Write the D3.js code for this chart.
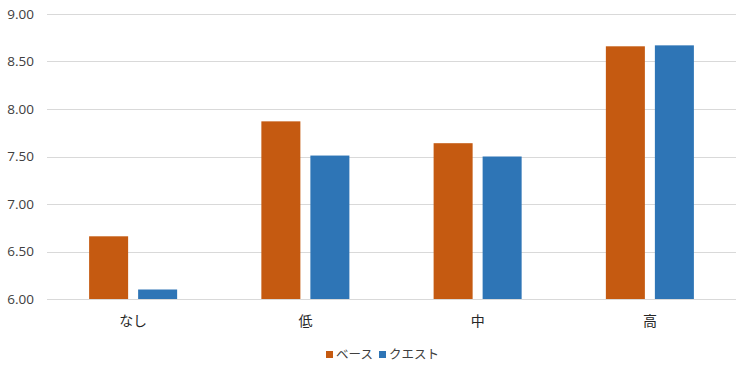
<!DOCTYPE html>
<html>
<head>
<meta charset="utf-8">
<script src="https://cdn.jsdelivr.net/npm/d3@7"></script>
<style>
  body { margin: 0; background: #fff; }
  text { font-family: "Noto Sans CJK JP", "Open Sans", sans-serif; }
</style>
</head>
<body>
<div id="chart"></div>
<script>
// chart data
const categories = ["なし", "低", "中", "高"];
const seriesNames = ["ベース", "クエスト"];
const baseValues = [6.66, 7.87, 7.64, 8.66];
const questValues = [6.10, 7.51, 7.50, 8.67];
const yTicks = [6.0, 6.5, 7.0, 7.5, 8.0, 8.5, 9.0];
const colors = ["#c55a11", "#2e75b6"];

let width = 750, height = 376;
let margin = {top: 14, right: 14, bottom: 77, left: 47};

let svg = d3.select("#chart").append("svg")
    .attr("width", width)
    .attr("height", height);

let x0 = d3.scaleBand()
    .domain(categories)
    .range([margin.left, width - margin.right])
    .paddingInner(0.489)
    .paddingOuter(0.2445);

let x1 = d3.scaleBand()
    .domain(seriesNames)
    .range([0, x0.bandwidth()])
    .paddingInner(0.204);

let y = d3.scaleLinear()
    .domain([6, 9])
    .range([height - margin.bottom, margin.top]);

// gridlines
svg.append("g")
    .selectAll("line")
    .data(yTicks)
    .join("line")
    .attr("x1", margin.left)
    .attr("x2", width - margin.right)
    .attr("y1", d => Math.round(y(d)) + 0.5)
    .attr("y2", d => Math.round(y(d)) + 0.5)
    .attr("stroke", "#d9d9d9")
    .attr("stroke-width", 1);

// y axis labels
let yAxis = svg.append("g")
    .attr("transform", `translate(${margin.left},0)`)
    .call(d3.axisLeft(y).tickValues(yTicks).tickFormat(d3.format(".2f")).tickSize(0).tickPadding(13));
yAxis.select(".domain").remove();
yAxis.selectAll("text")
    .attr("font-size", 13.5)
    .attr("fill", "#404040")
    .style("font-family", "'Open Sans', sans-serif");

// bars
let rows = categories.map((c, i) => ({cat: c, values: [baseValues[i], questValues[i]]}));

svg.append("g")
    .selectAll("g")
    .data(rows)
    .join("g")
    .attr("transform", d => `translate(${x0(d.cat)},0)`)
    .selectAll("rect")
    .data(d => d.values.map((v, j) => ({name: seriesNames[j], value: v, j: j})))
    .join("rect")
    .attr("x", d => x1(d.name))
    .attr("width", x1.bandwidth())
    .attr("y", d => y(d.value))
    .attr("height", d => y(6) - y(d.value))
    .attr("fill", d => colors[d.j]);

// x axis labels
let xAxis = svg.append("g")
    .attr("transform", `translate(0,${height - margin.bottom})`)
    .call(d3.axisBottom(x0).tickSize(0).tickPadding(17));
xAxis.select(".domain").remove();
xAxis.selectAll("text")
    .attr("font-size", 14)
    .attr("fill", "#262626");

// legend
let legend = svg.append("g").attr("transform", "translate(326,355)");
let items = legend.selectAll("g")
    .data(seriesNames)
    .join("g")
    .attr("transform", (d, i) => `translate(${i === 0 ? 0 : 53},0)`);
items.append("rect")
    .attr("x", 0)
    .attr("y", -4)
    .attr("width", 7)
    .attr("height", 7)
    .attr("fill", (d, i) => colors[i]);
items.append("text")
    .attr("x", 10)
    .attr("y", 0)
    .attr("dy", "0.35em")
    .attr("font-size", 12.5)
    .attr("fill", "#404040")
    .text(d => d);
</script>
</body>
</html>
